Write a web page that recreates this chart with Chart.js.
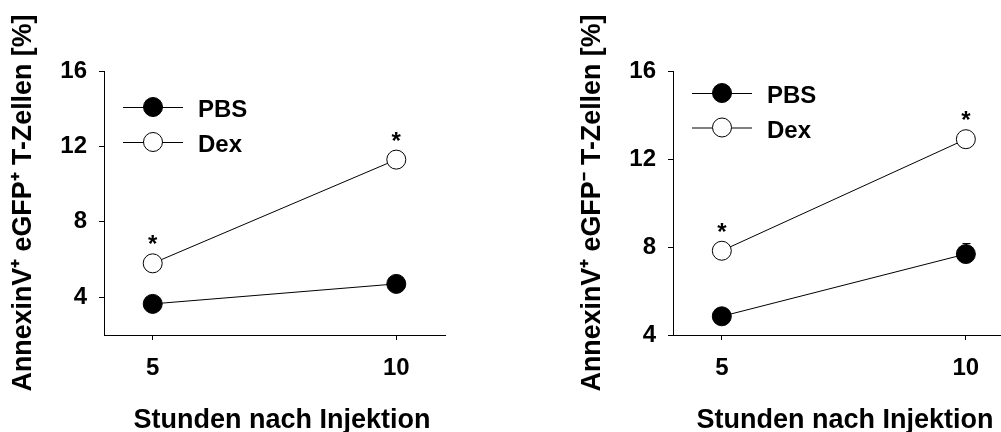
<!DOCTYPE html>
<html><head><meta charset="utf-8">
<script src="https://cdn.jsdelivr.net/npm/chart.js@4.4.0/dist/chart.umd.min.js"></script>
<style>
html,body{margin:0;padding:0;background:#fff;overflow:hidden}
#wrap{position:relative;width:1001px;height:432px;background:#fff}
.c{position:absolute;top:0;height:432px}
</style></head><body>
<div id="wrap">
<div class="c" style="left:0;width:500px"><canvas id="c1"></canvas></div>
<div class="c" style="left:500px;width:501px"><canvas id="c2"></canvas></div>
</div>
<script>
// ---- data ----
const hours = [5, 10];
const xTicks = [5, 10];
const seriesNames = ['PBS', 'Dex'];
const leftPBS = [3.65, 4.71];
const leftDex = [5.8, 11.3];
const leftPBSErr = [0.3, 0.3];
const leftDexErr = [0.3, 0.3];
const leftSig = ['*', '*'];
const leftYTicks = [4, 8, 12, 16];
const rightPBS = [4.85, 7.68];
const rightDex = [7.83, 12.9];
const rightPBSErr = [0.3, 0.49];
const rightDexErr = [0.3, 0.3];
const rightSig = ['*', '*'];
const rightYTicks = [4, 8, 12, 16];
const xTitle = 'Stunden nach Injektion';
const leftYTitle = 'AnnexinV\u207A eGFP\u207A T-Zellen [%]';
const rightYTitle = 'AnnexinV\u207A eGFP\u207B T-Zellen [%]';

const FONT = "'Liberation Sans', Arial, Helvetica, sans-serif";

const extras = {
  id: 'extras',
  beforeDatasetsDraw(chart) {
    const ctx = chart.ctx, xs = chart.scales.x, ys = chart.scales.y;
    ctx.save(); ctx.strokeStyle = '#000'; ctx.lineWidth = 1;
    chart.data.datasets.forEach(ds => {
      (ds.errors || []).forEach((e, i) => {
        const p = ds.data[i];
        const x = Math.round(xs.getPixelForValue(p.x)) + 0.5;
        const y0 = ys.getPixelForValue(p.y), y1 = Math.round(ys.getPixelForValue(p.y + e)) + 0.5;
        ctx.beginPath();
        ctx.moveTo(x, y0); ctx.lineTo(x, y1);
        ctx.moveTo(x - 4, y1); ctx.lineTo(x + 4, y1);
        ctx.stroke();
      });
    });
    ctx.restore();
  },
  afterDatasetsDraw(chart, args, o) {
    const ctx = chart.ctx, xs = chart.scales.x, ys = chart.scales.y, ca = chart.chartArea;
    ctx.save();
    ctx.fillStyle = '#000';
    // significance stars
    ctx.font = 'bold 24px ' + FONT;
    ctx.textAlign = 'center'; ctx.textBaseline = 'alphabetic';
    chart.data.datasets.forEach(ds => {
      (ds.sig || []).forEach((s, i) => {
        if (!s) return;
        const p = ds.data[i];
        ctx.fillText(s, xs.getPixelForValue(p.x), ys.getPixelForValue(p.y) - 11);
      });
    });
    // legend
    chart.data.datasets.forEach((ds, k) => {
      const y = ca.top + o.legTop + k * o.legGap;
      const x0 = ca.left + 19, xm = ca.left + 49, x1 = ca.left + 79;
      ctx.strokeStyle = '#000'; ctx.lineWidth = 1;
      ctx.beginPath(); ctx.moveTo(x0, y + 0.5); ctx.lineTo(x1, y + 0.5); ctx.stroke();
      ctx.beginPath(); ctx.arc(xm, y, 9.5, 0, Math.PI * 2);
      ctx.fillStyle = ds.pointBackgroundColor; ctx.fill(); ctx.stroke();
      ctx.fillStyle = '#000';
      ctx.font = 'bold 24px ' + FONT;
      ctx.textAlign = 'left'; ctx.textBaseline = 'alphabetic';
      ctx.fillText(ds.label, ca.left + 94, y + 10);
    });
    // x title
    ctx.font = 'bold 27px ' + FONT;
    ctx.textAlign = 'center'; ctx.textBaseline = 'alphabetic';
    ctx.fillText(xTitle, ca.left + o.xTitleDx, 427.5);
    ctx.restore();
  }
};

function makeChart(id, pbs, dex, pbsErr, dexErr, sig, yTicks, ymin, xmax, yTitle, o) {
  const common = {
    borderColor: '#000', borderWidth: 1, pointRadius: 9.5, pointHoverRadius: 9.5,
    pointBorderColor: '#000', pointBorderWidth: 1, fill: false, tension: 0
  };
  const axisGrid = { display: true, drawOnChartArea: false, drawTicks: true, tickLength: 5, color: '#000', lineWidth: 1 };
  const axisBorder = { display: true, color: '#000', width: 1 };
  const tickFont = { family: FONT, size: 24, weight: 'bold' };
  return new Chart(document.getElementById(id), {
    type: 'line',
    data: {
      datasets: [
        Object.assign({ label: seriesNames[0], data: hours.map((h, i) => ({ x: h, y: pbs[i] })), errors: pbsErr, pointBackgroundColor: '#000' }, common),
        Object.assign({ label: seriesNames[1], data: hours.map((h, i) => ({ x: h, y: dex[i] })), errors: dexErr, sig: sig, pointBackgroundColor: '#fff' }, common)
      ]
    },
    options: {
      responsive: true, maintainAspectRatio: false, animation: false, events: [],
      layout: { autoPadding: false, padding: { left: o.padL, right: o.padR, top: 71, bottom: 0 } },
      plugins: { legend: { display: false }, tooltip: { enabled: false }, extras: o },
      scales: {
        x: {
          type: 'linear', min: 4, max: xmax,
          afterBuildTicks: s => { s.ticks = xTicks.map(v => ({ value: v })); },
          afterFit: s => { s.height = 432 - 335; },
          grid: axisGrid, border: axisBorder,
          ticks: { color: '#000', font: tickFont, padding: 14, maxRotation: 0, autoSkip: false }
        },
        y: {
          type: 'linear', min: ymin, max: 16,
          afterBuildTicks: s => { s.ticks = yTicks.map(v => ({ value: v })); },
          afterFit: s => { s.width = o.yW; },
          grid: axisGrid, border: axisBorder,
          ticks: { color: '#000', font: tickFont, padding: 12 },
          title: { display: true, text: yTitle, color: '#000',
            font: { family: FONT, size: 26.8, weight: 'bold', lineHeight: 1.2 },
            padding: { top: o.yTitlePad, bottom: 0 } }
        }
      }
    },
    plugins: [extras]
  });
}

makeChart('c1', leftPBS, leftDex, leftPBSErr, leftDexErr, leftSig, leftYTicks, 2, 11, leftYTitle,
  { padL: 0, padR: 55, yW: 104, yTitlePad: 8, legTop: 36, legGap: 35, xTitleDx: 178 });
makeChart('c2', rightPBS, rightDex, rightPBSErr, rightDexErr, rightSig, rightYTicks, 4, 10.72, rightYTitle,
  { padL: 70, padR: 0, yW: 103, yTitlePad: 7, legTop: 22, legGap: 34.5, xTitleDx: 172 });
</script>
</body></html>
